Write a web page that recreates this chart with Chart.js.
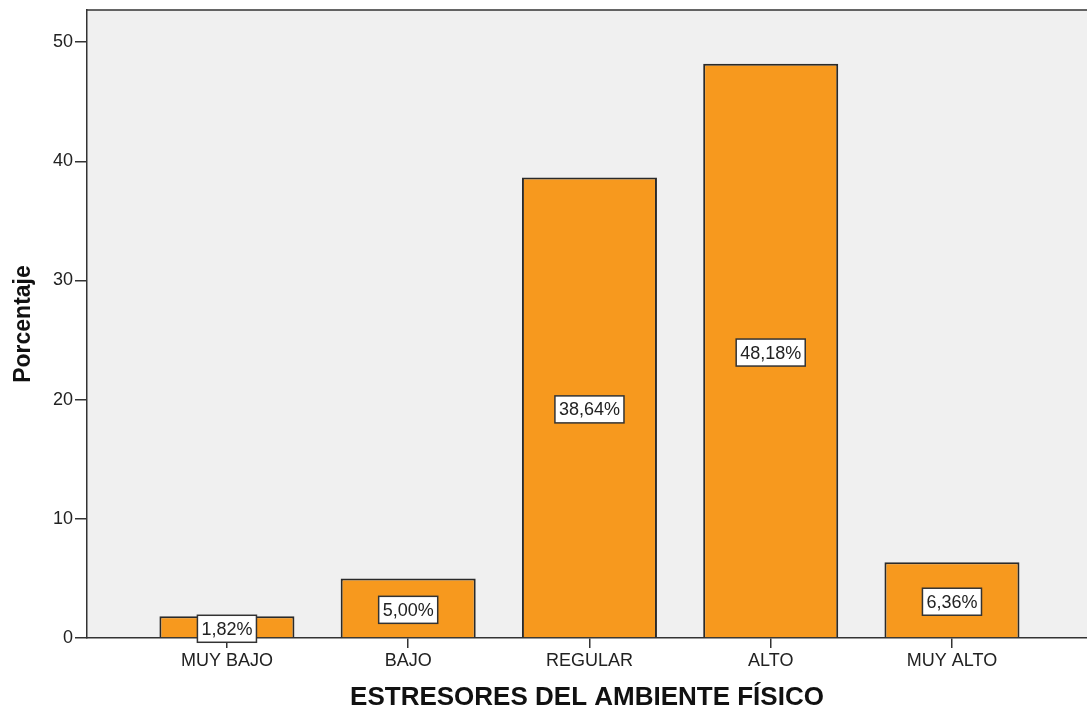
<!DOCTYPE html>
<html>
<head>
<meta charset="utf-8">
<script src="https://cdn.jsdelivr.net/npm/chart.js@4"></script>
<style>
  body { margin: 0; background: #fff; }
  #wrap { width: 1087px; height: 711px; }
</style>
</head>
<body>
<div id="wrap"><canvas id="barChart"></canvas></div>
<script>
var categories = ['MUY BAJO', 'BAJO', 'REGULAR', 'ALTO', 'MUY ALTO'];
var porcentajes = [1.82, 5.00, 38.64, 48.18, 6.36];
var etiquetas = ['1,82%', '5,00%', '38,64%', '48,18%', '6,36%'];
var yTicks = [0, 10, 20, 30, 40, 50];

var points = porcentajes.map(function (v, i) { return { x: i, y: v }; });
var FONT = '"Liberation Sans", Arial, sans-serif';

// fondo gris y marco del area
var fondo = {
  id: 'fondo',
  beforeDraw: function (chart) {
    var a = chart.chartArea, ctx = chart.ctx;
    ctx.save();
    ctx.fillStyle = '#F0F0F0';
    ctx.fillRect(a.left, a.top, a.right - a.left, a.bottom - a.top);
    ctx.restore();
  },
  afterDraw: function (chart) {
    var a = chart.chartArea, ctx = chart.ctx;
    ctx.save();
    ctx.strokeStyle = '#333';
    ctx.lineWidth = 1.5;
    ctx.beginPath();
    ctx.moveTo(a.left, a.top);
    ctx.lineTo(a.right, a.top);
    ctx.stroke();
    ctx.restore();
  }
};

// etiquetas con caja blanca en el centro de cada barra
var cajas = {
  id: 'cajas',
  afterDatasetsDraw: function (chart) {
    var ctx = chart.ctx;
    var meta = chart.getDatasetMeta(0);
    ctx.save();
    ctx.font = '18px ' + FONT;
    ctx.textAlign = 'center';
    ctx.textBaseline = 'middle';
    meta.data.forEach(function (bar, i) {
      var txt = etiquetas[i];
      var cy = (bar.y + bar.base) / 2 + 2;
      var w = ctx.measureText(txt).width + 8;
      var h = 27;
      ctx.fillStyle = '#fff';
      ctx.fillRect(bar.x - w / 2, cy - h / 2, w, h);
      ctx.strokeStyle = '#333';
      ctx.lineWidth = 1.5;
      ctx.strokeRect(bar.x - w / 2, cy - h / 2, w, h);
      ctx.fillStyle = '#222';
      ctx.fillText(txt, bar.x, cy + 1);
    });
    ctx.restore();
  }
};

new Chart(document.getElementById('barChart'), {
  type: 'bar',
  data: {
    datasets: [{
      data: points,
      backgroundColor: '#F7991E',
      borderColor: '#2a2a2a',
      borderWidth: 2,
      categoryPercentage: 1,
      barPercentage: 0.745
    }]
  },
  options: {
    responsive: true,
    maintainAspectRatio: false,
    animation: false,
    layout: { padding: { top: 10, right: 0, left: 0, bottom: 0 } },
    plugins: {
      legend: { display: false },
      tooltip: { enabled: false }
    },
    scales: {
      x: {
        type: 'linear',
        offset: false,
        min: -0.772,
        max: 4.745,
        afterBuildTicks: function (s) {
          s.ticks = categories.map(function (c, i) { return { value: i }; });
        },
        afterFit: function (s) { s.height = 73; },
        grid: { offset: false, drawOnChartArea: false, tickLength: 10, color: '#333', lineWidth: 1.5 },
        border: { display: true, color: '#333', width: 1.5 },
        ticks: {
          autoSkip: false,
          maxRotation: 0,
          padding: 2,
          color: '#222',
          font: { family: FONT, size: 18 },
          callback: function (v) { return categories[v]; }
        },
        title: {
          display: true,
          text: 'ESTRESORES DEL AMBIENTE FÍSICO',
          color: '#111',
          padding: { top: 0, bottom: -2 },
          font: { family: FONT, size: 26, weight: 'bold' }
        }
      },
      y: {
        min: 0,
        max: 52.7,
        afterBuildTicks: function (s) {
          s.ticks = yTicks.map(function (v) { return { value: v }; });
        },
        afterFit: function (s) { s.width = 87; s.paddingTop = 0; },
        grid: { drawOnChartArea: false, tickLength: 12, color: '#333', lineWidth: 1.5 },
        border: { display: true, color: '#333', width: 1.5 },
        ticks: {
          padding: 2,
          color: '#222',
          font: { family: FONT, size: 18 }
        },
        title: {
          display: true,
          text: 'Porcentaje',
          color: '#111',
          padding: { top: 10, bottom: 0 },
          font: { family: FONT, size: 23, weight: 'bold' }
        }
      }
    }
  },
  plugins: [fondo, cajas]
});
</script>
</body>
</html>
